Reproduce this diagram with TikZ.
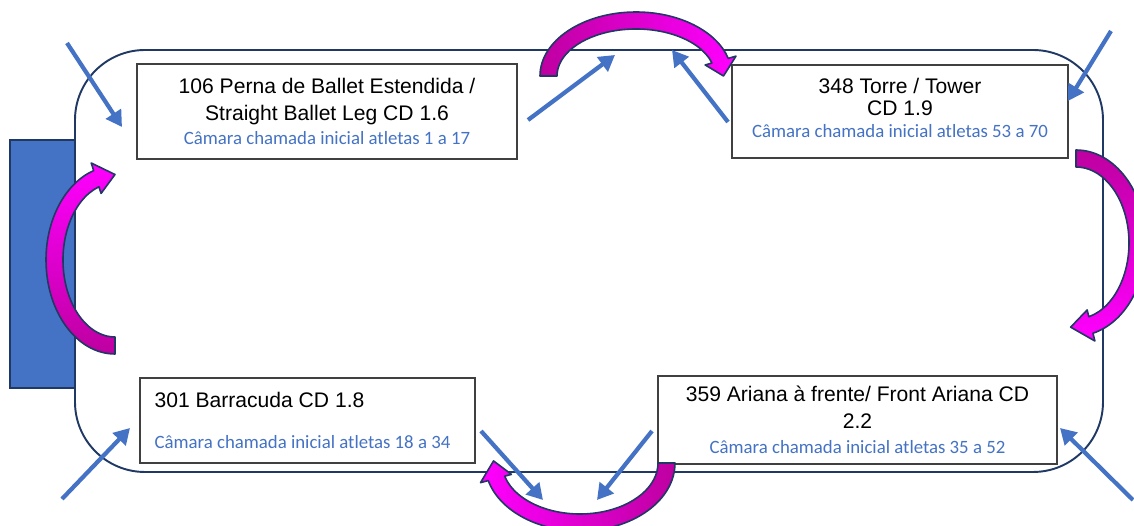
\documentclass[tikz,border=0pt]{standalone}
\usepackage{fontspec}
\setmainfont{Liberation Sans}
\newfontfamily\camfont{Carlito}
\usetikzlibrary{arrows.meta}

\definecolor{PoolLine}{RGB}{31,56,100}
\definecolor{CamBlue}{RGB}{68,114,196}
\definecolor{BoxGray}{RGB}{64,64,64}
\definecolor{TurnPink}{RGB}{255,0,255}
\definecolor{TurnDark}{RGB}{190,0,160}

\newcommand{\camtext}{\camfont\fontsize{10.7}{12}\selectfont\color{CamBlue}}

% curved block arrow: [shading] centre, rx, ry, start, end, tip angle
\newcommand{\turnarrow}[7][]{%
  \pgfmathsetmacro\rxin{#3-17}\pgfmathsetmacro\ryin{#4-17}
  \begin{scope}[shift={(#2)}]
  \filldraw[turn,#1] ({#3*cos(#5)},{#4*sin(#5)})
    arc[start angle=#5, end angle=#6, x radius=#3, y radius=#4]
    -- ({(#3+8)*cos(#6)},{(#4+8)*sin(#6)})
    -- ({(#3-8.5)*cos(#7)},{(#4-8.5)*sin(#7)})
    -- ({(#3-24)*cos(#6)},{(#4-24)*sin(#6)})
    -- ({\rxin*cos(#6)},{\ryin*sin(#6)})
    arc[start angle=#6, end angle=#5, x radius=\rxin, y radius=\ryin] -- cycle;
  \end{scope}}

\tikzset{
  station/.style={draw=BoxGray, line width=0.7pt, fill=white, align=center,
    inner sep=0pt, font=\fontsize{12}{15.3}\selectfont},
  pool/.style={draw=PoolLine, line width=1.1pt, rounded corners=1.4cm},
  turn/.style={draw=PoolLine, line width=0.9pt, line join=round},
  cam/.style={CamBlue, line width=2.4pt, -{Triangle[length=9pt,width=10pt]}}
}

\begin{document}
\begin{tikzpicture}[x=0.02cm, y=-0.02cm]
\useasboundingbox (0,0) rectangle (1134,526);
\clip (0,0) rectangle (1134,526);

% pool and platform
\filldraw[fill=CamBlue, draw=PoolLine, line width=1.2pt] (10,140) rectangle (75,388);
\draw[pool] (75,50) rectangle (1103,472);

% stations
\node[station, minimum width=7.6cm, minimum height=1.9cm] (ballet) at (327,111.5)
  {106 Perna de Ballet Estendida /\\Straight Ballet Leg CD 1.6\\[-1.1pt]{\camtext Câmara chamada inicial atletas 1 a 17}};
\node[station, minimum width=6.72cm, minimum height=1.86cm] (tower) at (900,111.5)
  {348 Torre / Tower\\[-2.8pt]CD 1.9\\[-2.8pt]{\camtext Câmara chamada inicial atletas 53 a 70}\\[-11pt]\mbox{}};
\node[station, align=left, minimum width=6.7cm, minimum height=1.7cm] (barracuda) at (307.5,420.5)
  {301 Barracuda CD 1.8\\[8.5pt]{\camtext Câmara chamada inicial atletas 18 a 34}\hspace*{0.2cm}};
\node[station, minimum width=7.98cm, minimum height=1.76cm] (ariana) at (857.5,420)
  {359 Ariana à frente/ Front Ariana CD\\2.2\\[-1.1pt]{\camtext Câmara chamada inicial atletas 35 a 52}};

% rotation arrows
\turnarrow[left color=TurnDark, right color=TurnPink]{636,76}{96}{64}{180}{344}{360}
\turnarrow[bottom color=TurnDark, top color=TurnPink]{115,260}{69}{94}{90}{252}{270}
\turnarrow[top color=TurnDark, bottom color=TurnPink]{1076,243}{70}{93}{-90}{76}{95}
\turnarrow[right color=TurnDark, left color=TurnPink]{580,463}{95}{68}{0}{165}{182}

% cameras
\foreach \xa/\ya/\xb/\yb in {67/43/122/127, 528/120/615/55, 728/122/672/50, 1111/31/1068/101,
  62/499/130/428, 481/431/543/500, 652/431/597/500, 1133/500/1060/428}{
\draw[cam] (\xa,\ya) -- (\xb,\yb);
}
\end{tikzpicture}
\end{document}
